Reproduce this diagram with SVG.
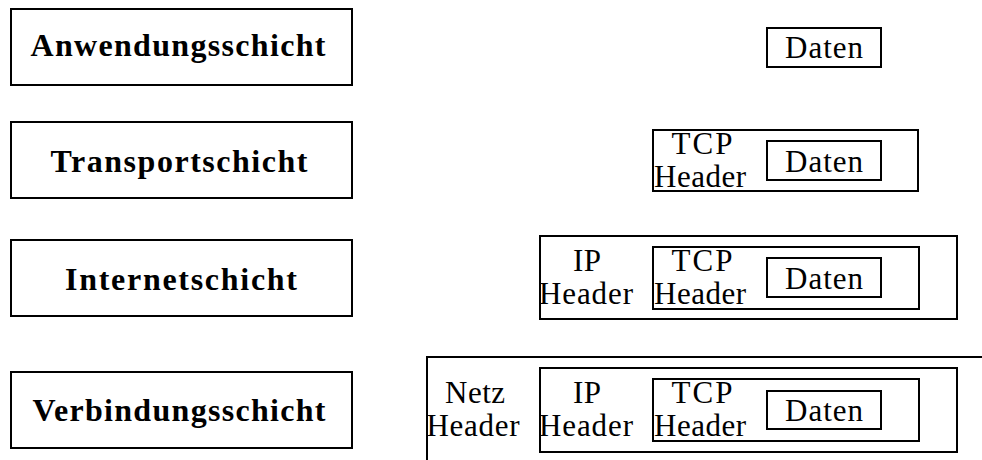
<svg xmlns="http://www.w3.org/2000/svg" width="982" height="460" viewBox="0 0 982 460">
  <style>
    .box { fill: none; stroke: #000; stroke-width: 2; }
    .layer { font-family: "Liberation Serif", "DejaVu Serif", serif; font-weight: bold; font-size: 32px; fill: #000; text-anchor: middle; }
    .lbl { font-family: "Liberation Serif", "DejaVu Serif", serif; font-size: 31px; fill: #000; text-anchor: middle; }
  </style>
  <rect width="982" height="460" fill="#fff"/>

  <!-- protocol layers -->
  <g id="layer-anwendung">
    <rect class="box" x="11" y="9" width="341" height="76"/>
    <text class="layer" x="178" y="56" textLength="295" lengthAdjust="spacing">Anwendungsschicht</text>
  </g>
  <g id="layer-transport">
    <rect class="box" x="11" y="122" width="341" height="76"/>
    <text class="layer" x="179" y="172" textLength="257" lengthAdjust="spacing">Transportschicht</text>
  </g>
  <g id="layer-internet">
    <rect class="box" x="11" y="240" width="341" height="76"/>
    <text class="layer" x="181" y="290" textLength="232" lengthAdjust="spacing">Internetschicht</text>
  </g>
  <g id="layer-verbindung">
    <rect class="box" x="11" y="372" width="341" height="76"/>
    <text class="layer" x="179" y="421" textLength="293" lengthAdjust="spacing">Verbindungsschicht</text>
  </g>

  <!-- application payload -->
  <g id="pkt-anwendung">
    <rect class="box" x="767" y="28" width="114" height="39"/>
    <text class="lbl" x="824" y="58" textLength="78" lengthAdjust="spacing">Daten</text>
  </g>

  <!-- TCP segment -->
  <g id="pkt-transport">
    <path class="box" d="M653 130 H918 V191 H653 Z"/>
    <text class="lbl" x="702" y="154" textLength="61" lengthAdjust="spacing">TCP</text>
    <text class="lbl" x="700" y="187" textLength="92" lengthAdjust="spacing">Header</text>
    <rect class="box" x="767" y="141" width="114" height="39"/>
    <text class="lbl" x="824" y="172" textLength="78" lengthAdjust="spacing">Daten</text>
  </g>

  <!-- IP datagram -->
  <g id="pkt-internet">
    <rect class="box" x="540" y="236" width="417" height="83"/>
    <text class="lbl" x="587" y="271" textLength="28" lengthAdjust="spacing">IP</text>
    <text class="lbl" x="586" y="304" textLength="94" lengthAdjust="spacing">Header</text>
    <rect class="box" x="653" y="247" width="266" height="62"/>
    <text class="lbl" x="702" y="271" textLength="61" lengthAdjust="spacing">TCP</text>
    <text class="lbl" x="700" y="304" textLength="92" lengthAdjust="spacing">Header</text>
    <rect class="box" x="767" y="258" width="114" height="39"/>
    <text class="lbl" x="824" y="289" textLength="78" lengthAdjust="spacing">Daten</text>
  </g>

  <!-- link-layer frame -->
  <g id="pkt-verbindung">
    <path class="box" d="M982 357 H427 V460"/>
    <text class="lbl" x="475" y="403" textLength="60" lengthAdjust="spacing">Netz</text>
    <text class="lbl" x="473" y="436" textLength="93" lengthAdjust="spacing">Header</text>
    <rect class="box" x="540" y="368" width="417" height="84"/>
    <text class="lbl" x="587" y="403" textLength="28" lengthAdjust="spacing">IP</text>
    <text class="lbl" x="586" y="436" textLength="94" lengthAdjust="spacing">Header</text>
    <rect class="box" x="653" y="379" width="266" height="62"/>
    <text class="lbl" x="702" y="403" textLength="61" lengthAdjust="spacing">TCP</text>
    <text class="lbl" x="700" y="436" textLength="92" lengthAdjust="spacing">Header</text>
    <rect class="box" x="767" y="391" width="114" height="38"/>
    <text class="lbl" x="824" y="421" textLength="78" lengthAdjust="spacing">Daten</text>
  </g>
</svg>
